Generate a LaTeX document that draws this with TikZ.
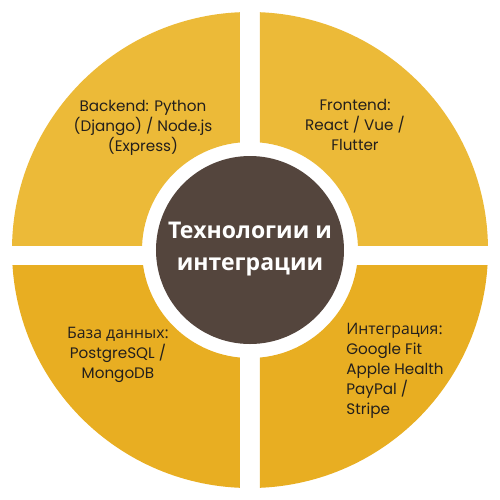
\documentclass[tikz,border=0pt]{standalone}
\usepackage{fontspec}
\setmainfont{Poppins}
\newfontfamily\cyrfont{Open Sans}
\newfontfamily\cyrbody[Scale=1.04]{Open Sans}
\definecolor{ytop}{HTML}{ECBA38}
\definecolor{ybot}{HTML}{E8AE22}
\definecolor{hub}{HTML}{54453D}
\definecolor{ink}{HTML}{231F1C}
\begin{document}
\begin{tikzpicture}[x=0.5pt,y=-0.5pt,
  lbl/.style={text=ink,font=\fontsize{7.6}{10}\selectfont,align=center,inner sep=0pt},
  lbll/.style={lbl,align=left},
  title/.style={text=white,font=\fontsize{11.5}{16}\selectfont\cyrfont\bfseries,align=center,inner sep=0pt}]
\useasboundingbox (0,0) rectangle (500,500);
\coordinate (c) at (250,250);
\begin{scope}
  \clip (0,0) rectangle (240,245);
  \fill[ytop,even odd rule] (c) circle[radius=119pt] (c) circle[radius=54pt];
\end{scope}
\begin{scope}
  \clip (260,0) rectangle (500,245);
  \fill[ytop,even odd rule] (c) circle[radius=119pt] (c) circle[radius=54pt];
\end{scope}
\begin{scope}
  \clip (0,265) rectangle (240,500);
  \fill[ybot,even odd rule] (c) circle[radius=119pt] (c) circle[radius=54pt];
\end{scope}
\begin{scope}
  \clip (260,265) rectangle (500,500);
  \fill[ybot,even odd rule] (c) circle[radius=119pt] (c) circle[radius=54pt];
\end{scope}
\fill[hub] (c) circle[radius=47pt];
\node[title] (hubtext) at (250,249) {Технологии и\\интеграции};
\node[lbl] (back) at (143,128) {Backend: Python\\(Django) / Node.js\\(Express)};
\node[lbl] (front) at (355,125) {Frontend:\\React / Vue /\\Flutter};
\node[lbl] (db) at (118,355) {{\cyrbody База данных:}\\PostgreSQL /\\MongoDB};
\node[lbll,anchor=west] (integ) at (346,371) {{\cyrbody Интеграция:}\\Google Fit\\Apple Health\\PayPal /\\Stripe};
\end{tikzpicture}
\end{document}
